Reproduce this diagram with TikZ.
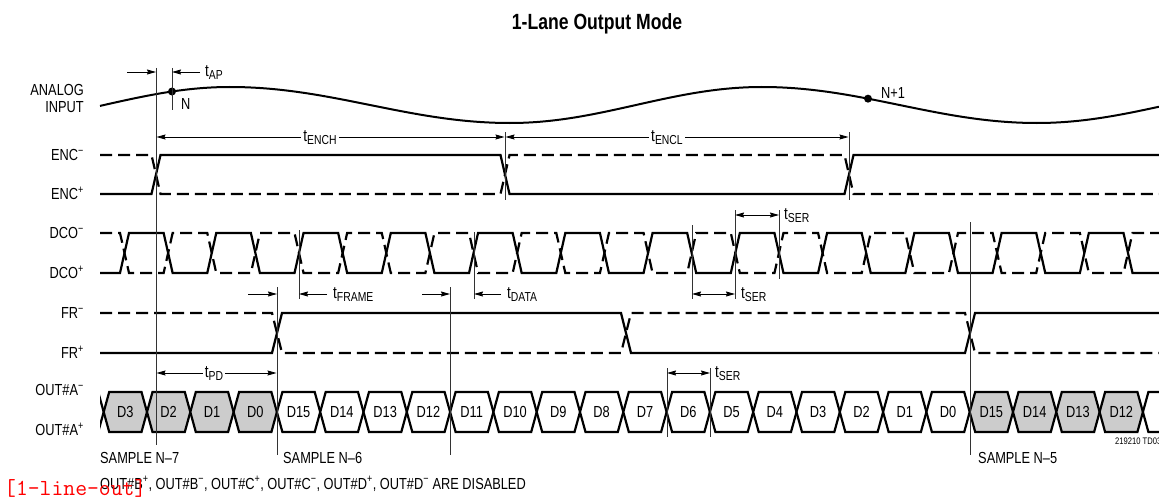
\documentclass[tikz,border=0pt]{standalone}
\usepackage{fontspec}
\setmainfont[FakeStretch=0.8]{Liberation Sans}
\usetikzlibrary{arrows.meta}
\definecolor{boxgray}{gray}{0.8}
\newcommand\tsb[1]{{\fontsize{17}{17}\selectfont t}\raisebox{-3pt}{\fontsize{13}{13}\selectfont #1}}
\newcommand\sigfont{\fontsize{16}{17}\selectfont}
\begin{document}
\begin{tikzpicture}[x=1pt,y=-1pt,
  sig/.style={line width=2.2pt,line join=miter},
  sigd/.style={sig,dash pattern=on 12pt off 6pt},
  vl/.style={line width=0.7pt,black!80},
  arr/.style={line width=0.8pt,-{Stealth[length=9pt,width=5pt,inset=1pt]}},
  darr/.style={line width=0.8pt,{Stealth[length=9pt,width=5pt,inset=1pt]}-{Stealth[length=9pt,width=5pt,inset=1pt]}},
  siglabel/.style={font=\sigfont,anchor=base east,inner sep=0pt},
  tl/.style={font=\sigfont,anchor=base west,inner sep=0pt},
  tlc/.style={font=\sigfont,anchor=base,inner sep=2pt,fill=white},
  dlabel/.style={font=\sigfont,inner sep=0pt},
  note/.style={font=\sigfont,anchor=base west,inner sep=0pt}]
\useasboundingbox (0,0) rectangle (1159,503);

% title
\node[font=\bfseries\fontsize{22}{22}\selectfont,anchor=base,inner sep=0pt] (title) at (597,30) {1-Lane Output Mode};

% left labels
\node[font=\sigfont,align=right,anchor=east,inner sep=0pt] (ain) at (84,98) {ANALOG\\INPUT};
\node[siglabel] (encm) at (84,160.5) {ENC\textsuperscript{−}};
\node[siglabel] (encp) at (84,199.5) {ENC\textsuperscript{+}};
\node[siglabel] (dcom) at (84,238.5) {DCO\textsuperscript{−}};
\node[siglabel] (dcop) at (84,278.5) {DCO\textsuperscript{+}};
\node[siglabel] (frm) at (84,318.5) {FR\textsuperscript{−}};
\node[siglabel] (frp) at (84,358.5) {FR\textsuperscript{+}};
\node[siglabel] (outm) at (84,395.5) {OUT\#A\textsuperscript{−}};
\node[siglabel] (outp) at (84,435.5) {OUT\#A\textsuperscript{+}};

% analog input
\draw[line width=2pt]
  plot[domain=100:230,samples=40] (\x,{105+18*cos((\x+22)/252*180)})
  -- plot[domain=230:510,samples=60] (\x,{105-18*cos((\x-230)/280*180)})
  -- plot[domain=510:762,samples=60] (\x,{105+18*cos((\x-510)/252*180)})
  -- plot[domain=762:1037,samples=60] (\x,{105-18*cos((\x-762)/275*180)})
  -- plot[domain=1037:1159,samples=30] (\x,{105+18*cos((\x-1037)/260*180)});
\node[circle,fill,inner sep=0pt,minimum size=8pt] (ndot) at (172,{105+18*cos((172+22)/252*180)}) {};
\node[circle,fill,inner sep=0pt,minimum size=8pt] (n1dot) at (868,{105-18*cos((868-762)/275*180)}) {};
\node[font=\sigfont,anchor=west,inner sep=0pt] (nlab) at (181,104) {N};
\node[font=\sigfont,anchor=west,inner sep=0pt] (n1lab) at (881,93) {N+1};

% ENC
\draw[sig] (100,194) -- (151.5,194) -- (160.5,155) -- (500.5,155) -- (509.5,194) -- (844.5,194) -- (853.5,155) -- (1159,155);
\draw[sigd] (100,155) -- (151.5,155) -- (160.5,194) -- (500.5,194) -- (509.5,155) -- (844.5,155) -- (853.5,194) -- (1159,194);

% DCO
\draw[sig] (100,273) foreach \k in {0,2,...,22} {
  -- ({124.5+43.63*\k-4.5},273) -- ({124.5+43.63*\k+4.5},233)
  -- ({124.5+43.63*(\k+1)-4.5},233) -- ({124.5+43.63*(\k+1)+4.5},273) } -- (1159,273);
\draw[sigd] (100,233) foreach \k in {0,2,...,22} {
  -- ({124.5+43.63*\k-4.5},233) -- ({124.5+43.63*\k+4.5},273)
  -- ({124.5+43.63*(\k+1)-4.5},273) -- ({124.5+43.63*(\k+1)+4.5},233) } -- (1159,233);

% FR
\draw[sig] (100,353) -- (272,353) -- (282,313) -- (621,313) -- (631,353) -- (965,353) -- (975,313) -- (1159,313);
\draw[sigd] (100,313) -- (272,313) -- (282,353) -- (621,353) -- (631,313) -- (965,313) -- (975,353) -- (1159,353);

% OUT data
\begin{scope}
\clip (100,380) rectangle (1159,445);
\foreach \k in {-1,...,24} {
  \pgfmathsetmacro\a{147+43.3*(\k-1)}
  \pgfmathsetmacro\b{147+43.3*\k}
  \pgfmathtruncatemacro\g{((\k>=0) && (\k<=3)) || ((\k>=20) && (\k<=23)) ? 1 : 0}
  \ifnum\g=1 \def\fc{boxgray}\else\def\fc{white}\fi
  \filldraw[sig,fill=\fc] (\a,412) -- ({\a+5.5},392) -- ({\b-5.5},392) -- (\b,412) -- ({\b-5.5},432) -- ({\a+5.5},432) -- cycle;
  \ifnum\k>-1 \ifnum\k<24
    \pgfmathtruncatemacro\d{mod(35-\k,16)}
    \node[dlabel] (d\k) at ({(\a+\b)/2},412) {D\d};
  \fi\fi
}
\end{scope}

% vertical reference lines
\draw[vl] (156,68) -- (156,445);
\draw[vl] (172,68) -- (172,110);
\draw[vl] (505,132) -- (505,200);
\draw[vl] (849,132) -- (849,200);
\draw[vl] (277,287) -- (277,455);
\draw[vl] (299,230) -- (299,299);
\draw[vl] (450,287) -- (450,455);
\draw[vl] (474,232) -- (474,299);
\draw[vl] (692,225) -- (692,299);
\draw[vl] (735,210) -- (735,299);
\draw[vl] (779,210) -- (779,279);
\draw[vl] (970,222) -- (970,455);
\draw[vl] (667,368) -- (667,437);
\draw[vl] (710,368) -- (710,437);

% timing arrows
\draw[arr] (127,72) -- (156,72);
\draw[arr] (200,72) -- (172,72);
\node[tl] (tap) at (205,77) {\tsb{AP}};

\draw[darr] (156.5,137) -- (504.5,137);
\node[tlc] (tench) at (320,141) {\tsb{ENCH}};
\draw[darr] (505.5,137) -- (848.5,137);
\node[tlc] (tencl) at (667,141) {\tsb{ENCL}};

\draw[arr] (248,294) -- (277,294);
\draw[arr] (327,294) -- (299,294);
\node[tl] (tframe) at (333,298) {\tsb{FRAME}};

\draw[arr] (422,294) -- (450,294);
\draw[arr] (501,294) -- (474,294);
\node[tl] (tdata) at (507,298) {\tsb{DATA}};

\draw[darr] (692,294) -- (735,294);
\node[tl] (tser1) at (741,298) {\tsb{SER}};
\draw[darr] (735,215) -- (779,215);
\node[tl] (tser2) at (784,219) {\tsb{SER}};

\draw[darr] (156.5,373) -- (276.5,373);
\node[tlc] (tpd) at (214,377) {\tsb{PD}};
\draw[darr] (667,373) -- (710,373);
\node[tl] (tser3) at (715,377) {\tsb{SER}};

% bottom notes
\node[note] (s7) at (100,463) {SAMPLE N–7};
\node[note] (s6) at (283,463) {SAMPLE N–6};
\node[note] (s5) at (978,463) {SAMPLE N–5};
\node[note] (dis) at (100,489) {OUT\#B\textsuperscript{+}, OUT\#B\textsuperscript{−}, OUT\#C\textsuperscript{+}, OUT\#C\textsuperscript{−}, OUT\#D\textsuperscript{+}, OUT\#D\textsuperscript{−} ARE DISABLED};
\node[font=\fontsize{9.5}{9.5}\selectfont,anchor=base west,inner sep=0pt] (ref) at (1115,444) {219210 TD03};
\node[font=\ttfamily\fontsize{23}{23}\selectfont,text=red,anchor=base west,inner sep=0pt] (tag) at (4,495) {[1-line-out]};
\end{tikzpicture}
\end{document}
